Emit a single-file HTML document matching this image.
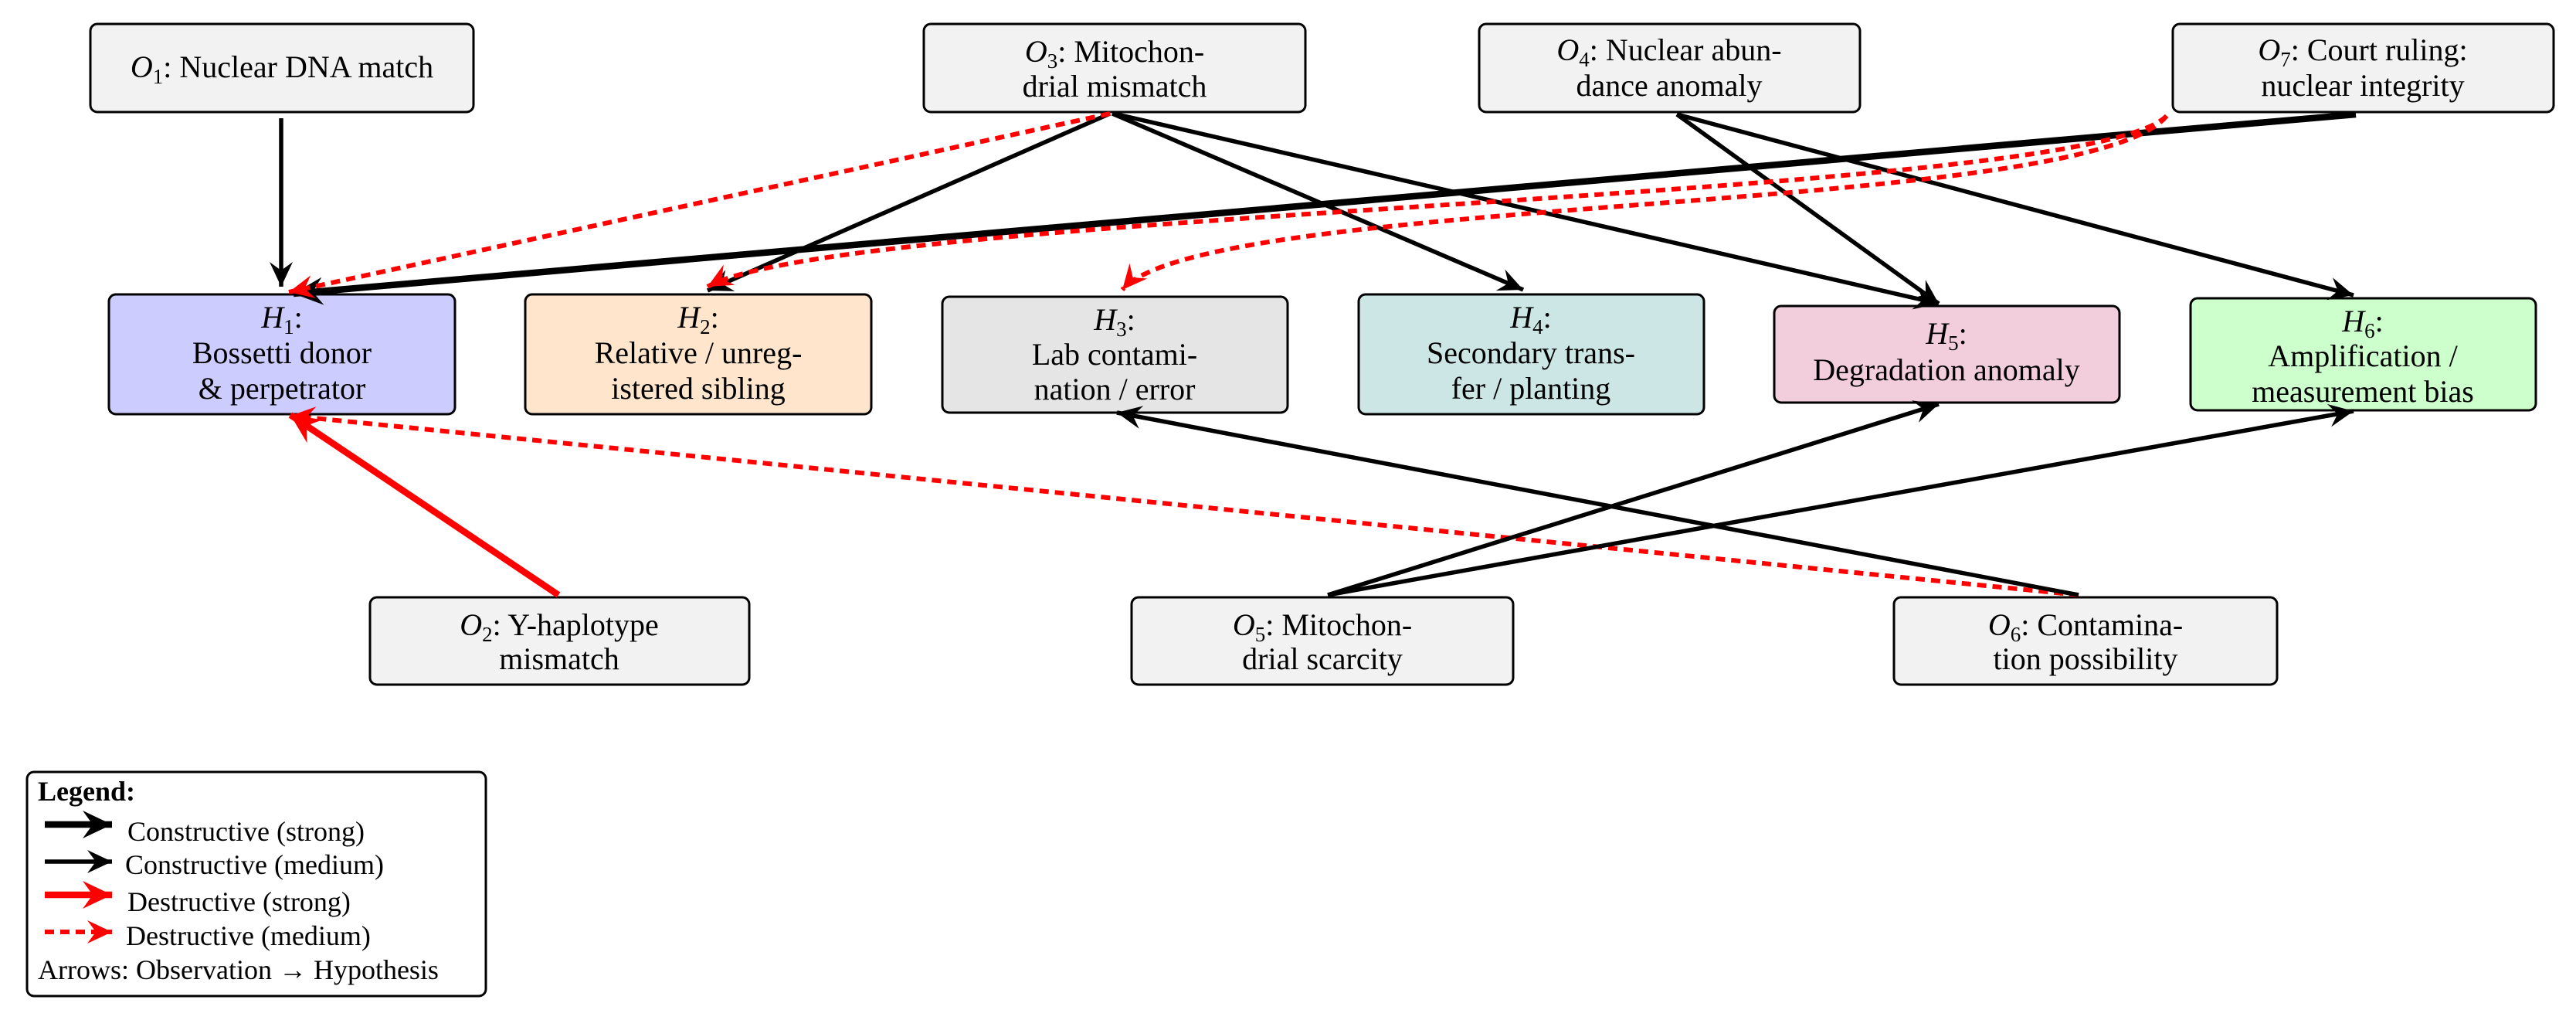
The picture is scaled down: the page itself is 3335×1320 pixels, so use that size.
<!DOCTYPE html>
<html><head><meta charset="utf-8"><style>
html,body{margin:0;padding:0;background:#fff}
svg{display:block}
svg text, svg tspan{font-family:"Liberation Serif",serif}
</style></head><body>
<svg width="3335" height="1320" viewBox="0 0 3335 1320" xmlns="http://www.w3.org/2000/svg" font-family="Liberation Serif, serif" font-size="40">
<defs>
<marker id="ab" markerUnits="userSpaceOnUse" viewBox="-34 -17 36 34" refX="0" refY="0" markerWidth="36" markerHeight="34" orient="auto"><path d="M0,0 L-32,-15 L-21,0 L-32,15 z" fill="#000"/></marker>
<marker id="abs" markerUnits="userSpaceOnUse" viewBox="-40 -20 42 40" refX="0" refY="0" markerWidth="42" markerHeight="40" orient="auto"><path d="M0,0 L-38,-18 L-25,0 L-38,18 z" fill="#000"/></marker>
<marker id="ar" markerUnits="userSpaceOnUse" viewBox="-34 -17 36 34" refX="0" refY="0" markerWidth="36" markerHeight="34" orient="auto"><path d="M0,0 L-32,-15 L-21,0 L-32,15 z" fill="#f00"/></marker>
<marker id="ars" markerUnits="userSpaceOnUse" viewBox="-40 -20 42 40" refX="0" refY="0" markerWidth="42" markerHeight="40" orient="auto"><path d="M0,0 L-38,-18 L-25,0 L-38,18 z" fill="#f00"/></marker>
</defs>

<g stroke="#000" stroke-width="3">
<rect x="117" y="31" width="496" height="114" rx="9" fill="#f2f2f2"/>
<rect x="1196" y="31" width="494" height="114" rx="9" fill="#f2f2f2"/>
<rect x="1915" y="31" width="493" height="114" rx="9" fill="#f2f2f2"/>
<rect x="2813" y="31" width="493" height="114" rx="9" fill="#f2f2f2"/>
<rect x="141" y="381" width="448" height="155" rx="9" fill="#ccccff"/>
<rect x="680" y="381" width="448" height="155" rx="9" fill="#ffe5cc"/>
<rect x="1220" y="384" width="447" height="150" rx="9" fill="#e5e5e5"/>
<rect x="1759" y="381" width="447" height="155" rx="9" fill="#cce5e5"/>
<rect x="2297" y="396" width="447" height="125" rx="9" fill="#f2cddb"/>
<rect x="2836" y="386" width="447" height="145" rx="9" fill="#ccffcc"/>
<rect x="479" y="773" width="491" height="113" rx="9" fill="#f2f2f2"/>
<rect x="1465" y="773" width="494" height="113" rx="9" fill="#f2f2f2"/>
<rect x="2452" y="773" width="496" height="113" rx="9" fill="#f2f2f2"/>
<rect x="35" y="999" width="594" height="290" rx="9" fill="#fff"/>
</g>

<g fill="none">
<line x1="364" y1="153" x2="364" y2="371" stroke="#000" stroke-width="5.5" marker-end="url(#ab)"/>
<line x1="1437" y1="147" x2="916" y2="376" stroke="#000" stroke-width="5.5" marker-end="url(#ab)"/>
<line x1="1440" y1="147" x2="1972" y2="375" stroke="#000" stroke-width="5.5" marker-end="url(#ab)"/>
<line x1="1442" y1="147" x2="2510" y2="393" stroke="#000" stroke-width="5.5" marker-end="url(#ab)"/>
<line x1="2171" y1="148" x2="2510" y2="393" stroke="#000" stroke-width="5.5" marker-end="url(#ab)"/>
<line x1="2171" y1="148" x2="3047" y2="382" stroke="#000" stroke-width="5.5" marker-end="url(#ab)"/>
<line x1="3050" y1="148" x2="380" y2="380" stroke="#000" stroke-width="8.5" marker-end="url(#abs)"/>
<line x1="1437" y1="147" x2="374" y2="378" stroke="#f00" stroke-width="6" stroke-dasharray="12,8" marker-end="url(#ar)"/>
<path d="M2805,150 C2700,260 1100,270 916,371" stroke="#f00" stroke-width="6" stroke-dasharray="12,8" marker-end="url(#ar)"/>
<path d="M2805,150 C2700,280 1560,250 1453,375" stroke="#f00" stroke-width="6" stroke-dasharray="12,8" marker-end="url(#ar)"/>
<line x1="723" y1="770" x2="376" y2="537" stroke="#f00" stroke-width="8.5" marker-end="url(#ars)"/>
<line x1="2691" y1="770" x2="376" y2="538" stroke="#f00" stroke-width="6" stroke-dasharray="12,8" marker-end="url(#ar)"/>
<line x1="2691" y1="770" x2="1446" y2="534" stroke="#000" stroke-width="5.5" marker-end="url(#ab)"/>
<line x1="1719" y1="770" x2="2510" y2="523" stroke="#000" stroke-width="5.5" marker-end="url(#ab)"/>
<line x1="1719" y1="770" x2="3047" y2="532" stroke="#000" stroke-width="5.5" marker-end="url(#ab)"/>
</g>

<g text-anchor="middle" font-size="40" fill="#000">
<text x="365" y="100"><tspan font-style="italic">O</tspan><tspan font-size="27" dy="8">1</tspan><tspan dy="-8">: Nuclear DNA match</tspan></text>
<text x="1443" y="80"><tspan font-style="italic">O</tspan><tspan font-size="27" dy="8">3</tspan><tspan dy="-8">: Mitochon-</tspan></text>
<text x="1443" y="125">drial mismatch</text>
<text x="2161" y="78"><tspan font-style="italic">O</tspan><tspan font-size="27" dy="8">4</tspan><tspan dy="-8">: Nuclear abun-</tspan></text>
<text x="2161" y="124">dance anomaly</text>
<text x="3059" y="78"><tspan font-style="italic">O</tspan><tspan font-size="27" dy="8">7</tspan><tspan dy="-8">: Court ruling:</tspan></text>
<text x="3059" y="124">nuclear integrity</text>

<text x="365" y="424"><tspan font-style="italic">H</tspan><tspan font-size="27" dy="8">1</tspan><tspan dy="-8">:</tspan></text>
<text x="365" y="470">Bossetti donor</text>
<text x="365" y="516">&amp; perpetrator</text>
<text x="904" y="424"><tspan font-style="italic">H</tspan><tspan font-size="27" dy="8">2</tspan><tspan dy="-8">:</tspan></text>
<text x="904" y="470">Relative / unreg-</text>
<text x="904" y="516">istered sibling</text>
<text x="1443" y="427"><tspan font-style="italic">H</tspan><tspan font-size="27" dy="8">3</tspan><tspan dy="-8">:</tspan></text>
<text x="1443" y="472">Lab contami-</text>
<text x="1443" y="517">nation / error</text>
<text x="1982" y="424"><tspan font-style="italic">H</tspan><tspan font-size="27" dy="8">4</tspan><tspan dy="-8">:</tspan></text>
<text x="1982" y="470">Secondary trans-</text>
<text x="1982" y="516">fer / planting</text>
<text x="2520" y="445"><tspan font-style="italic">H</tspan><tspan font-size="27" dy="8">5</tspan><tspan dy="-8">:</tspan></text>
<text x="2520" y="492">Degradation anomaly</text>
<text x="3059" y="429"><tspan font-style="italic">H</tspan><tspan font-size="27" dy="8">6</tspan><tspan dy="-8">:</tspan></text>
<text x="3059" y="474">Amplification /</text>
<text x="3059" y="520">measurement bias</text>

<text x="724" y="822"><tspan font-style="italic">O</tspan><tspan font-size="27" dy="8">2</tspan><tspan dy="-8">: Y-haplotype</tspan></text>
<text x="724" y="866">mismatch</text>
<text x="1712" y="822"><tspan font-style="italic">O</tspan><tspan font-size="27" dy="8">5</tspan><tspan dy="-8">: Mitochon-</tspan></text>
<text x="1712" y="866">drial scarcity</text>
<text x="2700" y="822"><tspan font-style="italic">O</tspan><tspan font-size="27" dy="8">6</tspan><tspan dy="-8">: Contamina-</tspan></text>
<text x="2700" y="866">tion possibility</text>
</g>

<g font-size="36" fill="#000">
<text x="49" y="1036" font-weight="bold">Legend:</text>
<line x1="58" y1="1067" x2="145" y2="1067" stroke="#000" stroke-width="8.5" marker-end="url(#abs)"/>
<text x="165" y="1088">Constructive (strong)</text>
<line x1="58" y1="1115" x2="145" y2="1115" stroke="#000" stroke-width="5.5" marker-end="url(#ab)"/>
<text x="162" y="1131">Constructive (medium)</text>
<line x1="58" y1="1158" x2="145" y2="1158" stroke="#f00" stroke-width="8.5" marker-end="url(#ars)"/>
<text x="165" y="1179">Destructive (strong)</text>
<line x1="58" y1="1206" x2="145" y2="1206" stroke="#f00" stroke-width="6" stroke-dasharray="12,8" marker-end="url(#ar)"/>
<text x="163" y="1223">Destructive (medium)</text>
<text x="49" y="1267">Arrows: Observation → Hypothesis</text>
</g>
</svg>
</body></html>
